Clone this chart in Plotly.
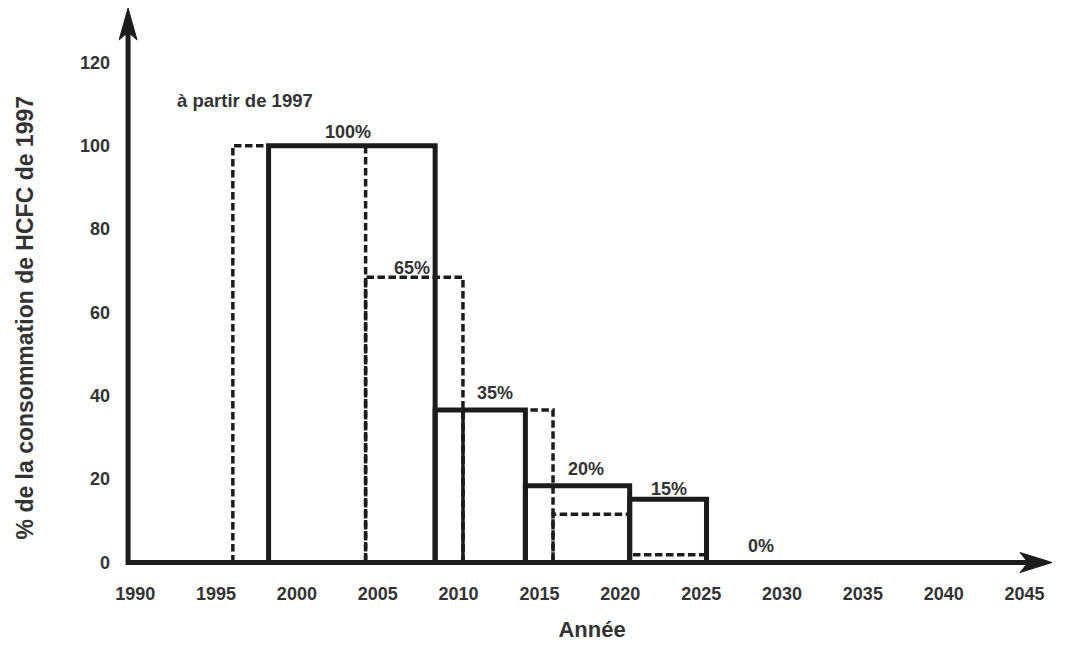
import plotly.graph_objects as go

# ---------------- data ----------------
years_ticks = [1990, 1995, 2000, 2005, 2010, 2015, 2020, 2025, 2030, 2035, 2040, 2045]
y_ticks = [0, 20, 40, 60, 80, 100, 120]

# solid steps (thick)
solid_start = [1998.25, 2008.55, 2014.13, 2020.58]
solid_end = [2008.55, 2014.13, 2020.58, 2025.33]
solid_val = [100, 36.6, 18.4, 15.2]

# dashed steps
dash_start = [1996.04, 2004.25, 2010.27, 2015.84, 2020.58]
dash_end = [2004.25, 2010.27, 2015.84, 2020.58, 2025.33]
dash_val = [100, 68.4, 36.6, 11.6, 1.85]

# percentage labels
pct_text = ["100%", "65%", "35%", "20%", "15%", "0%"]
pct_x = [2003.17, 2007.10, 2012.28, 2017.85, 2023.03, 2028.69]
pct_y = [103.2, 70.6, 40.6, 22.5, 17.6, 4.0]

note_text = "à partir de 1997"
note_x, note_y = 1996.8, 110.8

y_title = "% de la consommation de HCFC de 1997"
x_title = "Année"

# axes geometry (decoration)
AXIS_X0 = 1989.56
X_TIP = 2046.7
Y_TIP = 133.0

LINE = "#1c1c1c"
TEXT = "#333333"
FONT = "Liberation Sans"


def rect_path(starts, ends, vals):
    xs, ys = [], []
    for a, b, v in zip(starts, ends, vals):
        xs += [a, a, b, b, None]
        ys += [0, v, v, 0, None]
    return xs, ys


fig = go.Figure()

dx, dy = rect_path(dash_start, dash_end, dash_val)
fig.add_trace(go.Scatter(x=dx, y=dy, mode="lines",
                         line=dict(color=LINE, width=3.5, dash="7.5px,3.5px"),
                         hoverinfo="skip", showlegend=False))

# thin solid continuation of the dashed edge inside the second solid step
fig.add_trace(go.Scatter(x=[dash_end[1], dash_end[1]], y=[0, solid_val[1]], mode="lines",
                         line=dict(color=LINE, width=3.5), hoverinfo="skip", showlegend=False))

sx, sy = rect_path(solid_start, solid_end, solid_val)
fig.add_trace(go.Scatter(x=sx, y=sy, mode="lines",
                         line=dict(color=LINE, width=5),
                         hoverinfo="skip", showlegend=False))

annotations = []
for t, x, y in zip(pct_text, pct_x, pct_y):
    annotations.append(dict(x=x, y=y, text=t, showarrow=False, xanchor="center", yanchor="middle",
                            font=dict(family=FONT, size=18, color=TEXT, weight="bold")))
annotations.append(dict(x=note_x, y=note_y, text=note_text, showarrow=False,
                        xanchor="center", yanchor="middle",
                        font=dict(family=FONT, size=18.5, color=TEXT, weight="bold")))
# y axis title (placed as rotated text, centred where the reference has it)
annotations.append(dict(xref="paper", yref="paper", x=0, y=0.4535, xshift=-94.4,
                        text=y_title, textangle=-90, showarrow=False,
                        xanchor="center", yanchor="middle",
                        font=dict(family=FONT, size=23, color=TEXT, weight="bold")))

shapes = [
    dict(type="line", xref="x", yref="y", x0=AXIS_X0, y0=0, x1=X_TIP - 1.2, y1=0,
         line=dict(color=LINE, width=5)),
    dict(type="line", xref="x", yref="y", x0=AXIS_X0, y0=-0.6, x1=AXIS_X0, y1=Y_TIP - 5,
         line=dict(color=LINE, width=5)),
    dict(type="path", xref="x", yref="y", xsizemode="pixel", ysizemode="pixel",
         xanchor=X_TIP, yanchor=0, path="M0,0 L-32,10 L-24,0 L-32,-10 Z",
         fillcolor=LINE, line=dict(color=LINE, width=1)),
    dict(type="path", xref="x", yref="y", xsizemode="pixel", ysizemode="pixel",
         xanchor=AXIS_X0, yanchor=Y_TIP, path="M0,0 L-9,-32 L0,-24 L9,-32 Z",
         fillcolor=LINE, line=dict(color=LINE, width=1)),
]

fig.update_layout(
    width=1062, height=644,
    margin=dict(l=111.4, r=4.9, t=0, b=76.8),
    paper_bgcolor="white", plot_bgcolor="white",
    annotations=annotations, shapes=shapes,
    font=dict(family=FONT, color=TEXT),
)

fig.update_xaxes(
    range=[1989.0, 2047.5], tickvals=years_ticks, ticktext=[str(v) for v in years_ticks],
    showgrid=False, zeroline=False, showline=False, ticks="",
    tickfont=dict(family=FONT, size=18, color=TEXT, weight="bold"),
    ticklabelstandoff=6,
    title=dict(text=x_title, font=dict(family=FONT, size=22, color=TEXT, weight="bold"), standoff=18),
    automargin=False,
)
fig.update_yaxes(
    range=[-3, 133.02], tickvals=y_ticks, ticktext=[str(v) for v in y_ticks],
    showgrid=False, zeroline=False, showline=False, ticks="",
    tickfont=dict(family=FONT, size=18, color=TEXT, weight="bold"),
    ticklabelstandoff=8,
    automargin=False,
)

fig.write_html("out.html")
